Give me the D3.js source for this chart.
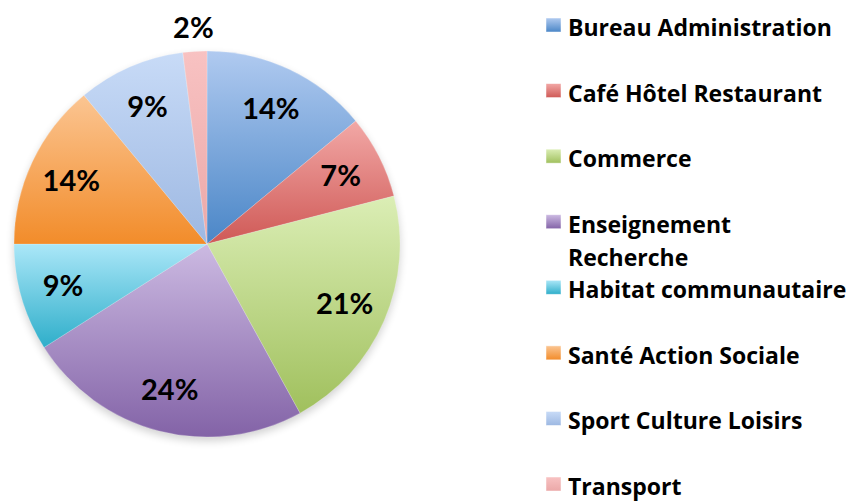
<!DOCTYPE html>
<html>
<head>
<meta charset="utf-8">
<script src="https://cdn.jsdelivr.net/npm/d3@7/dist/d3.min.js"></script>
<style>
  html, body { margin: 0; padding: 0; background: #fff; }
  svg { display: block; }
  text { font-family: Lato, "Open Sans", sans-serif; font-weight: bold; fill: #000; }
  text.legend-label { font-family: "Open Sans", Lato, sans-serif; }
</style>
</head>
<body>
<svg id="chart" width="848" height="503"></svg>
<script>
// Secteurs d'activité (en %)
const categories = [
  "Bureau Administration",
  "Café Hôtel Restaurant",
  "Commerce",
  "Enseignement Recherche",
  "Habitat communautaire",
  "Santé Action Sociale",
  "Sport Culture Loisirs",
  "Transport"
];
const values = [14, 7, 21, 24, 9, 14, 9, 2];
// Legend text lines (long names wrap onto two lines)
const legendLines = [
  ["Bureau Administration"],
  ["Café Hôtel Restaurant"],
  ["Commerce"],
  ["Enseignement", "Recherche"],
  ["Habitat communautaire"],
  ["Santé Action Sociale"],
  ["Sport Culture Loisirs"],
  ["Transport"]
];
// Gradient colours per slice: light top, darker bottom
const colorsTop    = ["#b0caf0", "#f2a8a6", "#dbeeb5", "#ccbae2", "#abe7f8", "#fbc592", "#c8dbf7", "#f8c2c2"];
const colorsBottom = ["#4a86c7", "#cf5956", "#a0c05d", "#8363a7", "#2eaeca", "#f28c2a", "#9db8e2", "#eba8a8"];

const svg = d3.select("#chart");
const defs = svg.append("defs");

const cx = 207, cy = 244, R = 193;

categories.forEach((c, i) => {
  const g = defs.append("linearGradient")
    .attr("id", "grad" + i)
    .attr("x1", 0).attr("y1", 0).attr("x2", 0).attr("y2", 1);
  g.append("stop").attr("offset", "0%").attr("stop-color", colorsTop[i]);
  g.append("stop").attr("offset", "100%").attr("stop-color", colorsBottom[i]);
});

// soft drop shadow under the pie
const blur = defs.append("filter").attr("id", "shadow")
  .attr("x", "-20%").attr("y", "-20%").attr("width", "140%").attr("height", "140%");
blur.append("feGaussianBlur").attr("stdDeviation", 4);

const pie = d3.pie().sort(null).value(d => d);
const arcs = pie(values);
const arc = d3.arc().innerRadius(0).outerRadius(R);
const labelArc = d3.arc().innerRadius(150).outerRadius(150);
const outerLabelArc = d3.arc().innerRadius(217).outerRadius(217);

const g = svg.append("g").attr("transform", `translate(${cx},${cy})`);

g.append("circle")
  .attr("cx", 0).attr("cy", 4).attr("r", R)
  .attr("fill", "#000").attr("opacity", 0.18)
  .attr("filter", "url(#shadow)");

g.selectAll("path.slice")
  .data(arcs)
  .join("path")
  .attr("class", "slice")
  .attr("d", arc)
  .attr("fill", (d, i) => `url(#grad${i})`)
  .attr("stroke", "rgba(255,255,255,0.35)")
  .attr("stroke-width", 0.6);

g.selectAll("text.pct")
  .data(arcs)
  .join("text")
  .attr("class", "pct")
  .attr("transform", d => {
    const p = (d.data < 5 ? outerLabelArc : labelArc).centroid(d);
    return `translate(${p[0]},${p[1]})`;
  })
  .attr("text-anchor", "middle")
  .attr("dy", "0.36em")
  .style("font-size", "29px")
  .text(d => d.data + "%");

// Legend
const legendY = d3.scalePoint()
  .domain(d3.range(categories.length))
  .range([36, 495]);

const lg = svg.append("g");
const item = lg.selectAll("g.item")
  .data(categories)
  .join("g")
  .attr("class", "item")
  .attr("transform", (d, i) => `translate(546,${legendY(i)})`);

item.append("rect")
  .attr("x", 0).attr("y", -18)
  .attr("width", 15).attr("height", 14)
  .attr("fill", (d, i) => `url(#grad${i})`)
  .attr("stroke", "rgba(255,255,255,0.6)")
  .attr("stroke-width", 0.8);

item.append("text")
  .attr("class", "legend-label")
  .attr("x", 22).attr("y", 0)
  .style("font-size", "23px")
  .selectAll("tspan")
  .data((d, i) => legendLines[i])
  .join("tspan")
  .attr("x", 22)
  .attr("dy", (d, j) => j === 0 ? 0 : 33)
  .text(d => d);
</script>
</body>
</html>
